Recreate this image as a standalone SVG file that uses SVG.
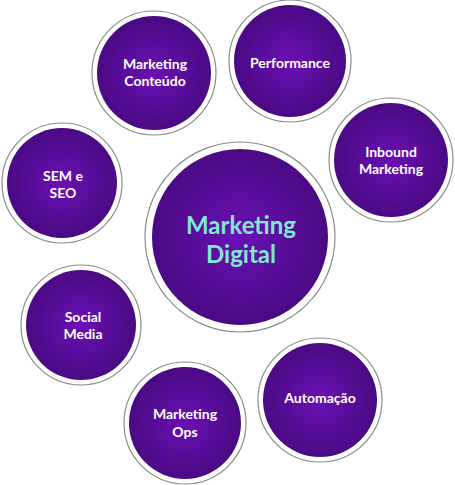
<svg xmlns="http://www.w3.org/2000/svg" width="455" height="485" viewBox="0 0 455 485">
<defs>
<radialGradient id="g" cx="50%" cy="50%" r="50%">
<stop offset="0" stop-color="#6a10b4"/>
<stop offset="1" stop-color="#4a0a84"/>
</radialGradient>
<style>
.ring{fill:#fff;stroke:#8a8a8a;stroke-width:1.2}
.core{fill:url(#g)}
.t{font-family:Lato,"Liberation Sans",sans-serif;font-weight:bold;font-size:14px;fill:#fff;text-anchor:middle}
.c{font-family:Lato,"Liberation Sans",sans-serif;font-weight:bold;font-size:24px;fill:#7fe8cf;text-anchor:middle}
</style>
</defs>
<rect width="455" height="485" fill="#fff"/>
<g id="conteudo">
<circle class="ring" cx="154" cy="73" r="62"/><circle class="core" cx="154" cy="73" r="57"/>
<text class="t" x="155" y="69">Marketing</text><text class="t" x="155" y="86">Conteúdo</text>
</g>
<g id="performance">
<circle class="ring" cx="290" cy="61" r="61"/><circle class="core" cx="290" cy="61" r="56"/>
<text class="t" x="290" y="68">Performance</text>
</g>
<g id="inbound">
<circle class="ring" cx="391" cy="160" r="62"/><circle class="core" cx="391" cy="160" r="57"/>
<text class="t" x="391" y="157">Inbound</text><text class="t" x="391" y="174">Marketing</text>
</g>
<g id="sem">
<circle class="ring" cx="62" cy="183" r="60"/><circle class="core" cx="62" cy="183" r="55"/>
<text class="t" x="63" y="181">SEM e</text><text class="t" x="63" y="198">SEO</text>
</g>
<g id="social">
<circle class="ring" cx="81" cy="325" r="60"/><circle class="core" cx="81" cy="325" r="55"/>
<text class="t" x="83" y="322">Social</text><text class="t" x="83" y="339">Media</text>
</g>
<g id="ops">
<circle class="ring" cx="185" cy="423" r="61"/><circle class="core" cx="185" cy="423" r="56"/>
<text class="t" x="185" y="419">Marketing</text><text class="t" x="185" y="437">Ops</text>
</g>
<g id="automacao">
<circle class="ring" cx="320" cy="400" r="62"/><circle class="core" cx="320" cy="400" r="57"/>
<text class="t" x="320" y="403">Automação</text>
</g>
<g id="center">
<circle class="ring" cx="240" cy="237" r="95"/><circle class="core" cx="240" cy="237" r="88"/>
<text class="c" x="241" y="234">Marketing</text><text class="c" x="241" y="263">Digital</text>
</g>
<g id="connectors"/>
</svg>
